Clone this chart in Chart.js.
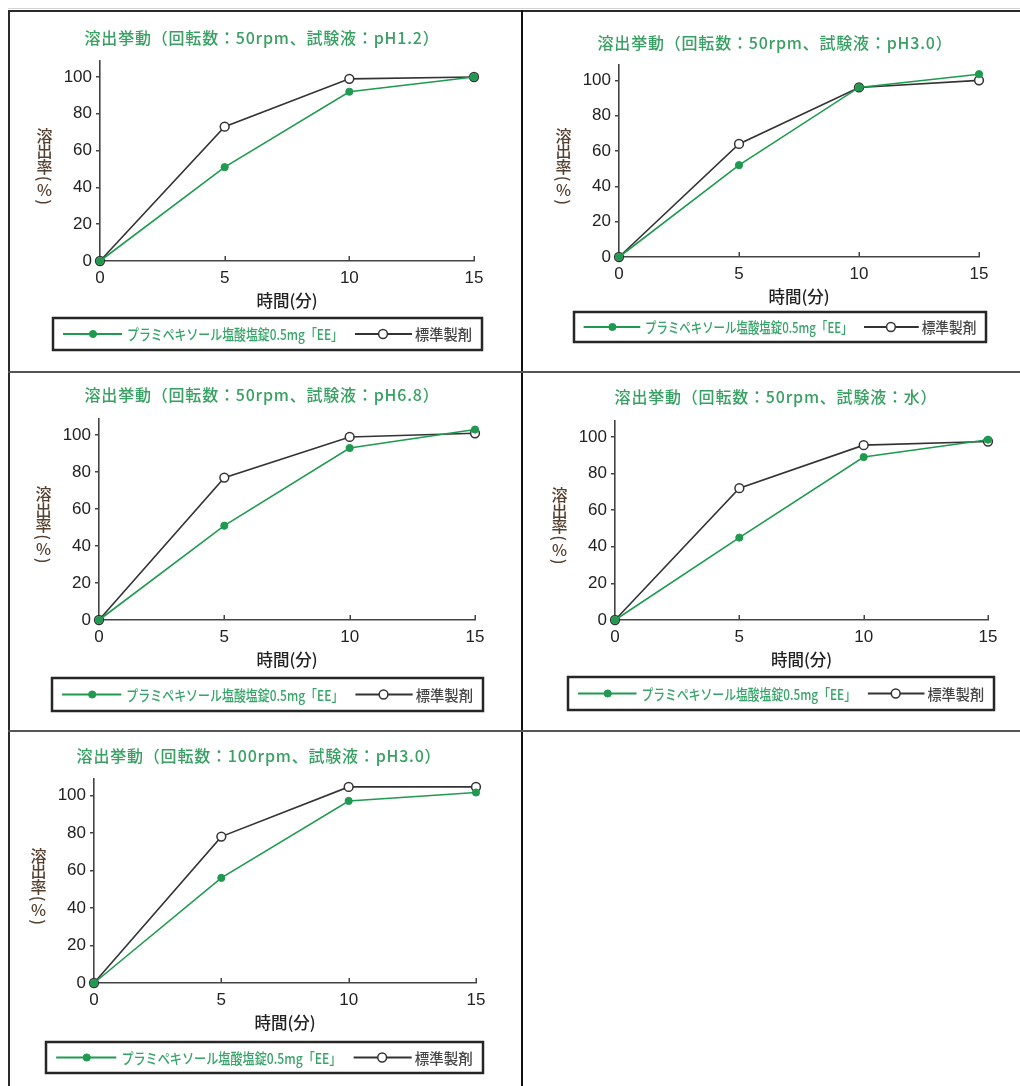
<!DOCTYPE html>
<html><head><meta charset="utf-8">
<script src="https://cdn.jsdelivr.net/npm/chart.js@4.4.1/dist/chart.umd.min.js"></script>
<style>
html,body{margin:0;padding:0;background:#fff;}
body{width:1020px;height:1086px;position:relative;overflow:hidden;}
canvas{position:absolute;}
.ln{position:absolute;background:#2a2a2a;}
</style></head><body>
<div class="ln" style="left:8px;top:8px;width:1012px;height:1px;background:#d4d4d4"></div>
<div class="ln" style="left:8px;top:10px;width:1012px;height:2px;"></div>
<div class="ln" style="left:8px;top:10px;width:2px;height:1076px;"></div>
<div class="ln" style="left:521px;top:10px;width:2px;height:1076px;background:#111"></div>
<div class="ln" style="left:8px;top:371px;width:1012px;height:2px;background:#555"></div>
<div class="ln" style="left:8px;top:730px;width:1012px;height:2px;background:#555"></div>
<canvas id="c0"></canvas><canvas id="c1"></canvas><canvas id="c2"></canvas><canvas id="c3"></canvas><canvas id="c4"></canvas>
<script>
// ---- data ----
const timeMinutes = [0, 5, 10, 15];
const xTickValues = [0, 5, 10, 15];
const yTickValues = [0, 20, 40, 60, 80, 100];
const yAxisMax = 108.7;
const seriesNames = ['プラミペキソール塩酸塩錠0.5mg「EE」', '標準製剤'];
const xAxisTitle = '時間(分)';
const yAxisTitle = '溶出率(％)';
const panelTitles = [
  '溶出挙動（回転数：50rpm、試験液：pH1.2）',
  '溶出挙動（回転数：50rpm、試験液：pH3.0）',
  '溶出挙動（回転数：50rpm、試験液：pH6.8）',
  '溶出挙動（回転数：50rpm、試験液：水）',
  '溶出挙動（回転数：100rpm、試験液：pH3.0）'
];
const eePH12  = [0, 51, 92, 100];
const refPH12 = [0, 73, 99, 100];
const eePH30  = [0, 52, 96, 103.5];
const refPH30 = [0, 64, 96, 100];
const eePH68  = [0, 51, 93, 103];
const refPH68 = [0, 77, 99, 101];
const eeWater  = [0, 45, 89, 98.5];
const refWater = [0, 72, 95.5, 97.5];
const ee100PH30  = [0, 56, 97, 101.5];
const ref100PH30 = [0, 78, 104.5, 104.5];

// ---- styling / layout ----
const GREEN = '#1f9a50';
const TITLE_GREEN = '#38a062';
const LEGEND_GREEN = '#36a468';
const AXIS = '#444';
const TEXT = '#222';
const YTITLE = '#55402f';
const CJK = '"Noto Sans CJK JP", "Noto Sans CJK SC", sans-serif';

const panels = [
  {canvas:[10,12,511,359],  area:{L:100,R:474,T:61,B:261},  title:[262,38],  legend:[53,318,429,32],  ee:eePH12,   ref:refPH12},
  {canvas:[524,12,496,359], area:{L:619,R:979,T:65,B:257},  title:[775,43],  legend:[574,312,412,30], ee:eePH30,   ref:refPH30},
  {canvas:[10,373,511,357], area:{L:99,R:475,T:419,B:620},  title:[262,395], legend:[52,678,431,33],  ee:eePH68,   ref:refPH68},
  {canvas:[524,373,496,357],area:{L:615,R:988,T:421,B:620}, title:[776,397], legend:[568,677,426,33], ee:eeWater,  ref:refWater},
  {canvas:[10,733,511,353], area:{L:94,R:476,T:779,B:983},  title:[259,756], legend:[46,1042,437,31], ee:ee100PH30,ref:ref100PH30}
];

const decor = {
  id: 'decor',
  beforeDatasetsDraw(chart, args, o) {
    const {ctx} = chart, xs = chart.scales.x, y0 = chart.scales.y.getPixelForValue(0);
    ctx.save();
    ctx.strokeStyle = AXIS; ctx.lineWidth = 1.5;
    xs.ticks.forEach(t => {
      if (t.value === 0) return;
      const px = Math.round(xs.getPixelForValue(t.value)) + 0.25;
      ctx.beginPath(); ctx.moveTo(px, y0); ctx.lineTo(px, y0 - 5); ctx.stroke();
    });
    ctx.restore();
  },
  afterDraw(chart, args, o) {
    const {ctx} = chart;
    ctx.save();
    // title
    ctx.fillStyle = TITLE_GREEN;
    ctx.font = '500 16px ' + CJK;
    ctx.textAlign = 'left'; ctx.textBaseline = 'middle';
    try { ctx.letterSpacing = '0.8px'; } catch (e) {}
    const tw = ctx.measureText(o.title).width;
    ctx.fillText(o.title, o.titleX - tw / 2, o.titleY);
    try { ctx.letterSpacing = '0px'; } catch (e) {}
    ctx.textAlign = 'center';
    // vertical y title
    ctx.fillStyle = YTITLE;
    ctx.font = '500 16px ' + CJK;
    const chars = Array.from(yAxisTitle);
    const adv = chars.map(c => (c === '(' || c === ')') ? 8 : 15.5);
    const total = adv.reduce((a, b) => a + b, 0);
    let y = o.yTitleY - total / 2;
    chars.forEach((c, i) => {
      const cyc = y + adv[i] / 2;
      ctx.save();
      ctx.translate(o.yTitleX, cyc);
      if (c === '(' || c === ')') ctx.rotate(Math.PI / 2);
      ctx.fillText(c, 0, 0);
      ctx.restore();
      y += adv[i];
    });
    // legend
    const [lx, ly, lw, lh] = o.legend;
    const s = lw / 429;
    ctx.lineWidth = 2.5; ctx.strokeStyle = '#262626';
    ctx.strokeRect(lx, ly, lw, lh);
    const cy = ly + lh / 2;
    const items = [{line:[10,69], mark:40, text:74, tw:216, color:LEGEND_GREEN},
                   {line:[302,359], mark:330, text:362, tw:57, color:'#444'}];
    chart.data.datasets.forEach((ds, i) => {
      const it = items[i];
      ctx.strokeStyle = ds.borderColor; ctx.lineWidth = 2;
      ctx.beginPath(); ctx.moveTo(lx + it.line[0]*s, cy); ctx.lineTo(lx + it.line[1]*s, cy); ctx.stroke();
      ctx.beginPath(); ctx.arc(lx + it.mark*s, cy, ds.pointRadius, 0, Math.PI*2);
      ctx.fillStyle = ds.pointBackgroundColor; ctx.fill();
      ctx.lineWidth = ds.pointBorderWidth; ctx.strokeStyle = ds.pointBorderColor; ctx.stroke();
      ctx.fillStyle = it.color;
      ctx.font = '500 14.5px ' + CJK;
      ctx.textAlign = 'left'; ctx.textBaseline = 'middle';
      ctx.fillText(ds.label, lx + it.text*s, cy + 0.5, it.tw*s);
    });
    ctx.restore();
  }
};

Chart.defaults.font.family = '"Liberation Sans", Arial, sans-serif';

panels.forEach((p, i) => {
  const [cx, cy, cw, ch] = p.canvas;
  const el = document.getElementById('c' + i);
  el.style.left = cx + 'px'; el.style.top = cy + 'px';
  el.width = cw; el.height = ch;
  const A = p.area;
  const yAxisW = A.L - cx;
  const xAxisH = cy + ch - A.B;
  const xTitleFont = 16.5, lineH = xTitleFont * 1.2;
  const xTitlePadBottom = (cy + ch) - (A.B + 39.5) - lineH / 2;
  new Chart(el, {
    type: 'line',
    data: {
      datasets: [
        {label: seriesNames[0], data: timeMinutes.map((t, k) => ({x: t, y: p.ee[k]})),
         borderColor: GREEN, borderWidth: 1.6, pointRadius: 3.6, pointBackgroundColor: GREEN,
         pointBorderColor: GREEN, pointBorderWidth: 1, tension: 0, clip: false},
        {label: seriesNames[1], data: timeMinutes.map((t, k) => ({x: t, y: p.ref[k]})),
         borderColor: '#333', borderWidth: 1.6, pointRadius: 4.4, pointBackgroundColor: '#fff',
         pointBorderColor: '#333', pointBorderWidth: 1.5, tension: 0, clip: false}
      ]
    },
    options: {
      responsive: false, animation: false, devicePixelRatio: 1,
      layout: {padding: {left: 0, top: A.T - cy, right: cx + cw - A.R, bottom: 0}},
      plugins: {
        legend: {display: false}, title: {display: false}, tooltip: {enabled: false},
        decor: {title: panelTitles[i], titleX: p.title[0] - cx, titleY: p.title[1] - cy,
                yTitleX: A.L - 55.5 - cx, yTitleY: (A.T + A.B) / 2 + 6 - cy,
                legend: [p.legend[0] - cx, p.legend[1] - cy, p.legend[2], p.legend[3]]}
      },
      scales: {
        x: {
          type: 'linear', min: 0, max: 15,
          afterBuildTicks: ax => { ax.ticks = xTickValues.map(v => ({value: v})); },
          afterFit: ax => { ax.height = xAxisH; },
          grid: {display: false, drawTicks: false},
          border: {display: true, color: AXIS, width: 1.6},
          ticks: {padding: 7, color: TEXT, font: {size: 17}, maxRotation: 0, autoSkip: false},
          title: {display: true, text: xAxisTitle, color: TEXT, font: {size: xTitleFont, family: CJK, weight: '500'},
                  padding: {top: 0, bottom: xTitlePadBottom}}
        },
        y: {
          type: 'linear', min: 0, max: yAxisMax,
          afterBuildTicks: ax => { ax.ticks = yTickValues.map(v => ({value: v})); },
          afterFit: ax => { ax.width = yAxisW; },
          grid: {display: true, drawOnChartArea: false, drawTicks: true, tickLength: 4, color: AXIS, lineWidth: 1.5},
          border: {display: true, color: AXIS, width: 1.6},
          ticks: {padding: 4, color: TEXT, font: {size: 17}, autoSkip: false}
        }
      }
    },
    plugins: [decor]
  });
});
</script>
</body></html>
